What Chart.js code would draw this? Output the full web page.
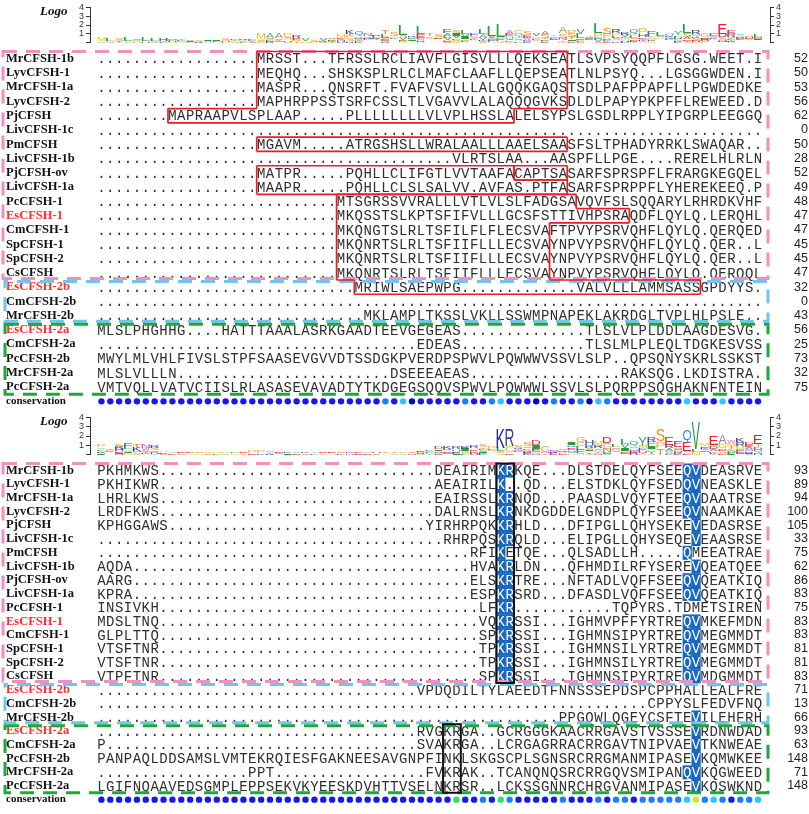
<!DOCTYPE html>
<html lang="en">
<head>
<meta charset="UTF-8">
<title>CFSH alignment</title>
<script src="https://cdn.jsdelivr.net/npm/chart.js"></script>
<style>
  body { margin: 0; background: #fff; }
  #wrap { position: relative; width: 809px; height: 814px; overflow: hidden; }
  canvas { position: absolute; left: 0; }
</style>
</head>
<body>
<div id="wrap">
  <canvas id="logo1" width="809" height="50" style="top:0"></canvas>
  <canvas id="aln1" width="809" height="372" style="top:44px"></canvas>
  <canvas id="logo2" width="809" height="52" style="top:410px"></canvas>
  <canvas id="aln2" width="809" height="358" style="top:456px"></canvas>
</div>
<script>
// ---- data ----
const names = ['MrCFSH-1b', 'LyvCFSH-1', 'MrCFSH-1a', 'LyvCFSH-2', 'PjCFSH', 'LivCFSH-1c', 'PmCFSH',
  'LivCFSH-1b', 'PjCFSH-ov', 'LivCFSH-1a', 'PcCFSH-1', 'EsCFSH-1', 'CmCFSH-1', 'SpCFSH-1', 'SpCFSH-2',
  'CsCFSH', 'EsCFSH-2b', 'CmCFSH-2b', 'MrCFSH-2b', 'EsCFSH-2a', 'CmCFSH-2a', 'PcCFSH-2b', 'MrCFSH-2a', 'PcCFSH-2a'];
const redNames = ['EsCFSH-1', 'EsCFSH-2b', 'EsCFSH-2a'];
const rowLabels = names.concat(['conservation']);

const gap = n => '.'.repeat(n);   // alignment gaps

const seqTop = [
  gap(18) + 'MRSST...TFRSSLRCLIAVFLGISVLLLQEKSEATLSVPSYQQPFLGSG.WEET.I',
  gap(18) + 'MEQHQ...SHSKSPLRLCLMAFCLAAFLLQEPSEATLNLPSYQ...LGSGGWDEN.I',
  gap(18) + 'MASPR...QNSRFT.FVAFVSVLLLALGQQKGAQSTSDLPAFPPAPFLLPGWDEDKE',
  gap(18) + 'MAPHRPPSSTSRFCSSLTLVGAVVLALAQQQGVKSDLDLPAPYPKPFFLREWEED.D',
  gap(8) + 'MAPRAAPVLSPLAAP.....PLLLLLLLLVLVPLHSSLALELSYPSLGSDLRPPLYIPGRPLEEGGQ',
  gap(75),
  gap(18) + 'MGAVM.....ATRGSHSLLWRALAALLLAAELSAASFSLTPHADYRRKLSWAQAR..',
  gap(40) + 'VLRTSLAA...AASPFLLPGE....RERELHLRLN',
  gap(18) + 'MATPR.....PQHLLCLIFGTLVVTAAFACAPTSASARFSPRSPFLFRARGKEGQEL',
  gap(18) + 'MAAPR.....PQHLLCLSLSALVV.AVFAS.PTFASARFSPRPPFLYHEREKEEQ.P',
  gap(27) + 'MTSGRSSVVRALLLVTLVLSLFADGSAVQVFSLSQQARYLRHRDKVHF',
  gap(27) + 'MKQSSTSLKPTSFIFVLLLGCSFSTTIVHPSRAQDFLQYLQ.LERQHL',
  gap(27) + 'MKQNGTSLRLTSFILFLFLECSVAFTPVYPSRVQHFLQYLQ.QERQED',
  gap(27) + 'MKQNRTSLRLTSFIIFLLLECSVAYNPVYPSRVQHFLQYLQ.QER..L',
  gap(27) + 'MKQNRTSLRLTSFIIFLLLECSVAYNPVYPSRVQHFLQYLQ.QER..L',
  gap(27) + 'MKQNRTSLRLTSFIIFLLLECSVAYNPVYPSRVQHFLQYLQ.QERQQL',
  gap(29) + 'MRIWLSAEPWPG' + gap(13) + 'VALVLLLAMMSASSGPDYYS.',
  gap(75),
  gap(30) + 'MKLAMPLTKSSLVKLLSSWMPNAPEKLAKRDGLTVPLHLPSLE..',
  'MLSLPHGHHG....HATTTAAALASRKGAADTEEVGEGEAS' + gap(14) + 'TLSLVLPLDDLAAGDESVG.',
  gap(36) + 'EDEAS' + gap(14) + 'TLSLMLPLEQLTDGKESVSS',
  'MWYLMLVHLFIVSLSTPFSAASEVGVVDTSSDGKPVERDPSPWVLPQWWWVSSVLSLP..QPSQNYSKRLSSKST',
  'MLSLVLLLN' + gap(24) + 'DSEEEAEAS' + gap(17) + 'RAKSQG.LKDISTRA.',
  'VMTVQLLVATVCIISLRLASASEVAVADTYTKDGEGSQQVSPWVLPQWWWLSSVLSLPQRPPSQGHAKNFNTEIN'
];

const seqBottom = [
  'PKHMKWS' + gap(31) + 'DEAIRIMKRKQE...DLSTDELQYFSEEQVDEASRVE',
  'PKHIKWR' + gap(31) + 'AEAIRILK..QD...ELSTDKLQYFSEDQVNEASKLE',
  'LHRLKWS' + gap(31) + 'EAIRSSLKRNQD...PAASDLVQYFTEEQVDAATRSE',
  'LRDFKWS' + gap(31) + 'DALRNSLKRNKDGDDELGNDPLQYFSEEQVNAAMKAE',
  'KPHGGAWS' + gap(29) + 'YIRHRPQKKRHLD...DFIPGLLQHYSEKEVEDASRSE',
  gap(39) + 'RHRPQSKRQLD...ELIPGLLQHYSEQEVEAASRSE',
  gap(42) + 'RFIKETQE...QLSADLLH.....QMEEATRAE',
  'AQDA' + gap(38) + 'HVAKRLDN...QFHMDILRFYSEREVQEATQEE',
  'AARG' + gap(38) + 'ELSKRTRE...NFTADLVQFFSEEQVQEATKIQ',
  'KPRA' + gap(38) + 'ESPKRSRD...DFASDLVQFFSEEQVQEATKIQ',
  'INSIVKH' + gap(36) + 'LFKR' + gap(11) + 'TQPYRS.TDMETSIREN',
  'MDSLTNQ' + gap(36) + 'VQKRSSI...IGHMVPFFYRTREQVMKEFMDN',
  'GLPLTTQ' + gap(36) + 'SPKRSSI...IGHMNSIPYRTREQVMEGMMDT',
  'VTSFTNR' + gap(36) + 'TPKRSSI...IGHMNSILYRTREQVMEGMMDT',
  'VTSFTNR' + gap(36) + 'TPKRSSI...IGHMNSILYRTREQVMEGMMDT',
  'VTPFTNR' + gap(36) + 'SPKRSSI...IGHMNSIPYRTREQVMDGMMDT',
  gap(36) + 'VPDQDILTYLAEEDTFNNSSSEPDSPCPPHALLEALFRE',
  gap(62) + 'CPPYSLFEDVFNQ',
  gap(52) + 'PPGQWLQGEYCSFTEVILEHFRH',
  gap(36) + 'RVGKRGA..GCRGGGKAACRRGAVSTVSSSEVRDNWDAD',
  'P' + gap(35) + 'SVAKRGA..LCRGAGRRACRRGAVTNIPVAEVTKNWEAE',
  'PANPAQLDDSAMSLVMTEKRQIESFGAKNEESAVGNPFINKLSKGSCPLSGNSRCRRGMANMIPASEVKQMWKEE',
  gap(17) + 'PPT' + gap(17) + 'FVKRAK..TCANQNQSRCRRGQVSMIPANQVKQGWEED',
  'LGIFNQAAVEDSGMPLEPPSEKVKYEESKDVHTTVSELNKRSR..LCKSSGNNRCHRGVANMIPASEVKQSWKND'
];

const countsTop = [52, 50, 53, 56, 62, 0, 50, 28, 52, 49, 48, 47, 47, 45, 45, 47, 32, 0, 43, 56, 25, 73, 32, 75];
const countsBottom = [93, 89, 94, 100, 105, 33, 75, 62, 86, 83, 75, 83, 83, 81, 81, 83, 71, 13, 66, 93, 63, 148, 71, 148];

// conservation level per column: D dark, B blue, L light blue, C cyan, G green, Y yellow-green
const consTop = 'BBBBBBBBBBBBBBBBBBBBBBBBBBBBBBBB' + 'LBCDBBBBBLBBLCBBBDBLBBLDCLBBBBBBBBCBBBCBBBB';
const consBottom = 'BBBBBBBBBBBBBBBBBBBBBBBBBBBBBBBBBBB' + 'BBBBBGBBLBGLBBBBBLBBBLBLLBLLLLLCYLCLBLLC';
const consColors = { D: '#0606b8', B: '#1818ee', L: '#1f7dff', C: '#2cc6ff', G: '#2ee06e', Y: '#c6ee1e' };

// sequence groups (dashed boxes): first row, last row
const groupFrom = [0, 16, 19];
const groupTo = [15, 18, 23];
const groupColors = ['#f08fc0', '#6cc6ee', '#1fa83a'];

// red signal-peptide boxes, top block: [row, firstCol, endCol)
const redBoxesTop = [
  [[0, 18, 53], [1, 18, 53], [2, 18, 53], [3, 18, 53], [4, 8, 47]],
  [[6, 18, 53]],
  [[8, 18, 47], [9, 18, 53]],
  [[8, 47, 53]],
  [[10, 27, 54], [11, 27, 60], [12, 27, 51], [13, 27, 51], [14, 27, 51], [15, 27, 51], [16, 29, 68]]
];

// shaded conserved residues, bottom block
const hiCols = [45, 46, 66, 67];
const hiLetters = ['K', 'R', 'Q', 'V'];
const hiLastRow = [15, 15, 23, 23];
// black boxes, bottom block: [firstRow, lastRow, firstCol, lastCol]
const blackBoxes = [[0, 15, 45, 46], [19, 23, 39, 40]];

const letterColors = { A: '#8c8c8c', C: '#d4c41a', D: '#e8202a', E: '#e8202a', F: '#3a64c8', G: '#f2a23a',
  H: '#3a4fb8', I: '#23a23c', K: '#1d2b8f', L: '#23a23c', M: '#e8d000', N: '#b455c8', P: '#f2b24a',
  Q: '#2596d8', R: '#2d3da6', S: '#f28a22', T: '#f28a22', V: '#23a23c', W: '#ea62c6', Y: '#2e9e62' };

// ---- layout ----
const NCOL = 75;
const ALN_LEFT = 97, ALN_RIGHT = 762.5, LEFT_PAD = 6, RIGHT_PAD = 1;
const LOGO_LEFT = 90, LOGO_RIGHT = 770;
const CW = (ALN_RIGHT - ALN_LEFT) / NCOL;
const LOGO_XMIN = -0.5 - (ALN_LEFT - LOGO_LEFT) / CW;
const LOGO_XMAX = NCOL - 0.5 + (LOGO_RIGHT - ALN_RIGHT) / CW;
const TEXT = '#2e2e2e', HI = '#1766c0', RED = '#ff2d2d';

// ---- logo from the alignment (information content per column, scaled by occupancy) ----
function logoColumns(seqs) {
  const N = seqs.length;
  const out = [];
  for (let c = 0; c < NCOL; c++) {
    const counts = {};
    let n = 0;
    seqs.forEach(s => {
      const ch = s[c];
      if (ch && ch !== '.') { counts[ch] = (counts[ch] || 0) + 1; n++; }
    });
    if (!n) { out.push([]); continue; }
    let H = 0;
    Object.values(counts).forEach(k => { const f = k / n; H -= f * Math.log2(f); });
    const R = Math.max(0, Math.log2(20) - H) * n / N;
    out.push(Object.entries(counts).map(([ch, k]) => ({ ch, h: k / n * R })).sort((a, b) => a.h - b.h));
  }
  return out;
}

const glyphCache = {};
function drawLetter(ctx, ch, left, bottom, w, h) {
  ctx.font = '100px "Liberation Sans"';
  if (!glyphCache[ch]) glyphCache[ch] = ctx.measureText(ch);
  const m = glyphCache[ch];
  const gw = m.actualBoundingBoxLeft + m.actualBoundingBoxRight;
  const gh = m.actualBoundingBoxAscent + m.actualBoundingBoxDescent;
  ctx.save();
  ctx.translate(left, bottom);
  ctx.scale(w / gw, h / gh);
  ctx.fillStyle = letterColors[ch] || '#888';
  ctx.textAlign = 'left';
  ctx.textBaseline = 'alphabetic';
  ctx.fillText(ch, m.actualBoundingBoxLeft, -m.actualBoundingBoxDescent);
  ctx.restore();
}

function logoChart(id, seqs, padTop) {
  const cols = logoColumns(seqs);
  const logoPlugin = {
    id: 'logoLetters',
    afterDatasetsDraw(chart) {
      const { ctx, scales: { x, y } } = chart;
      const cw = x.getPixelForValue(1) - x.getPixelForValue(0);
      ctx.save();
      cols.forEach((stack, c) => {
        let base = 0;
        stack.forEach(({ ch, h }) => {
          const yb = y.getPixelForValue(base), yt = y.getPixelForValue(base + h);
          if (yb - yt > 0.4) drawLetter(ctx, ch, x.getPixelForValue(c) - cw * 0.46, yb, cw * 0.92, yb - yt);
          base += h;
        });
      });
      ctx.font = 'italic bold 13px "Liberation Serif"';
      ctx.fillStyle = '#111';
      ctx.textAlign = 'left';
      ctx.textBaseline = 'middle';
      ctx.fillText('Logo', 40, chart.chartArea.top + 4);
      ctx.restore();
    }
  };
  const axis = (position, width) => ({
    type: 'linear', min: 0, max: 4, position,
    afterBuildTicks: a => { a.ticks = [0, 1, 2, 3, 4].map(v => ({ value: v })); },
    afterFit: a => { a.width = width; },
    grid: { drawOnChartArea: false, tickLength: 4, color: '#333', lineWidth: 1 },
    border: { color: '#333', width: 1 },
    ticks: { autoSkip: false, padding: 2, color: '#333', font: { size: 9, family: 'Liberation Sans' },
      callback: v => (v === 0 ? '' : v) }
  });
  return new Chart(document.getElementById(id), {
    type: 'scatter',
    data: { datasets: [] },
    options: {
      responsive: false, animation: false,
      layout: { padding: { top: padTop, bottom: 4, left: 0, right: 0 } },
      plugins: { legend: { display: false }, tooltip: { enabled: false } },
      scales: {
        x: { type: 'linear', min: LOGO_XMIN, max: LOGO_XMAX, display: false },
        y: axis('left', LOGO_LEFT),
        y2: axis('right', 809 - LOGO_RIGHT)
      }
    },
    plugins: [logoPlugin]
  });
}

// ---- alignment ----
function outlineUnion(ctx, x, y, segs) {
  const px = c => x.getPixelForValue(c - 0.5);
  ctx.beginPath();
  segs.forEach(([r, s, e]) => {
    const t = y.getPixelForValue(r - 0.5), b = y.getPixelForValue(r + 0.5);
    ctx.moveTo(px(s), t); ctx.lineTo(px(s), b);
    ctx.moveTo(px(e), t); ctx.lineTo(px(e), b);
  });
  for (let i = 0; i <= segs.length; i++) {
    const a = segs[i - 1], b = segs[i];
    const yy = a ? y.getPixelForValue(a[0] + 0.5) : y.getPixelForValue(b[0] - 0.5);
    let parts;
    if (!a) parts = [[b[1], b[2]]];
    else if (!b) parts = [[a[1], a[2]]];
    else if (a[2] <= b[1] || b[2] <= a[1]) parts = [[a[1], a[2]], [b[1], b[2]]];
    else parts = [[Math.min(a[1], b[1]), Math.max(a[1], b[1])], [Math.min(a[2], b[2]), Math.max(a[2], b[2])]];
    parts.forEach(([s, e]) => { if (e > s) { ctx.moveTo(px(s), yy); ctx.lineTo(px(e), yy); } });
  }
  ctx.stroke();
}

function isShaded(shade, r, c, ch) {
  if (!shade) return false;
  const k = hiCols.indexOf(c);
  return k >= 0 && r <= hiLastRow[k] && ch === hiLetters[k];
}

function alignmentChart(id, seqs, counts, cons, padBottom, redBoxes, shade, frames) {
  const consRow = names.length;
  const alignPlugin = {
    id: 'alignText',
    beforeDatasetsDraw(chart) {
      const { ctx, scales: { x, y } } = chart;
      const cw = x.getPixelForValue(1) - x.getPixelForValue(0);
      const rh = y.getPixelForValue(1) - y.getPixelForValue(0);
      ctx.save();
      ctx.font = '14px "Liberation Mono"';
      ctx.textAlign = 'center';
      ctx.textBaseline = 'middle';
      seqs.forEach((s, r) => {
        for (let c = 0; c < s.length; c++) {
          const ch = s[c];
          const cx = x.getPixelForValue(c), cy = y.getPixelForValue(r);
          const on = isShaded(shade, r, c, ch);
          if (on) { ctx.fillStyle = HI; ctx.fillRect(cx - cw / 2, cy - rh / 2, cw + 0.3, rh + 0.3); }
          ctx.fillStyle = on ? '#fff' : TEXT;
          ctx.fillText(ch, cx, cy + 1);
        }
      });
      ctx.restore();
    },
    afterDatasetsDraw(chart) {
      const { ctx, scales: { x, y } } = chart;
      ctx.save();
      // group frames
      const right = x.getPixelForValue(NCOL - 0.5) + 5.5;
      groupFrom.forEach((from, g) => {
        const left = chart.scales.y.left - 3 + (g ? 2 : 0);
        const top = y.getPixelForValue(from - 0.5) + (g ? 1.5 : 0);
        const bottom = y.getPixelForValue(groupTo[g] + 0.5) + (g < 2 ? -1.5 : 0);
        ctx.strokeStyle = groupColors[g];
        ctx.lineWidth = 3;
        ctx.setLineDash([14, 9]);
        ctx.lineDashOffset = g === 1 ? 11 : 0;
        ctx.strokeRect(left, top, right - left, bottom - top);
      });
      ctx.setLineDash([]);
      // red boxes
      ctx.strokeStyle = '#ec1c24';
      ctx.lineWidth = 1.7;
      redBoxes.forEach(segs => outlineUnion(ctx, x, y, segs));
      // black boxes
      ctx.strokeStyle = '#111';
      ctx.lineWidth = 2;
      frames.forEach(([r0, r1, c0, c1]) => {
        const l = x.getPixelForValue(c0 - 0.5), rr = x.getPixelForValue(c1 + 0.5);
        const t = y.getPixelForValue(r0 - 0.5), b = y.getPixelForValue(r1 + 0.5);
        ctx.strokeRect(l, t, rr - l, b - t);
      });
      ctx.restore();
    }
  };
  const rowAxis = (position, width, labelFn, colorFn, fontFn) => ({
    type: 'linear', reverse: true, min: -0.5, max: consRow + 0.5, position,
    afterBuildTicks: a => { a.ticks = rowLabels.map((_, i) => ({ value: i })); },
    afterFit: a => { a.width = width; },
    grid: { display: false }, border: { display: false },
    ticks: { autoSkip: false, crossAlign: 'far', padding: 0, callback: (v, i) => labelFn(i), color: colorFn, font: fontFn }
  });
  return new Chart(document.getElementById(id), {
    type: 'scatter',
    data: {
      datasets: [{
        data: cons.split('').map((_, i) => ({ x: i, y: consRow })),
        pointBackgroundColor: cons.split('').map(k => consColors[k]),
        pointBorderWidth: 0,
        pointRadius: 3.2,
        pointHoverRadius: 3.2
      }]
    },
    options: {
      responsive: false, animation: false,
      layout: { padding: { top: 6, bottom: padBottom, left: LEFT_PAD, right: RIGHT_PAD } },
      plugins: { legend: { display: false }, tooltip: { enabled: false } },
      scales: {
        x: { type: 'linear', min: -0.5, max: NCOL - 0.5, display: false },
        y: rowAxis('left', ALN_LEFT - LEFT_PAD, i => rowLabels[i],
          c => (redNames.includes(rowLabels[c.index]) ? RED : '#111'),
          c => (c.index === consRow
            ? { family: 'Liberation Serif', weight: 'bold', size: 11 }
            : { family: 'Liberation Serif', weight: 'bold', size: 12.5 })),
        yr: rowAxis('right', 809 - RIGHT_PAD - ALN_RIGHT, i => (i < counts.length ? String(counts[i]) : ''),
          '#222', { family: 'Liberation Sans', size: 12.5 })
      }
    },
    plugins: [alignPlugin]
  });
}

logoChart('logo1', seqTop, 5);
alignmentChart('aln1', seqTop, countsTop, consTop, 6, redBoxesTop, false, []);
logoChart('logo2', seqBottom, 7);
alignmentChart('aln2', seqBottom, countsBottom, consBottom, 0, [], true, blackBoxes);
</script>
</body>
</html>
